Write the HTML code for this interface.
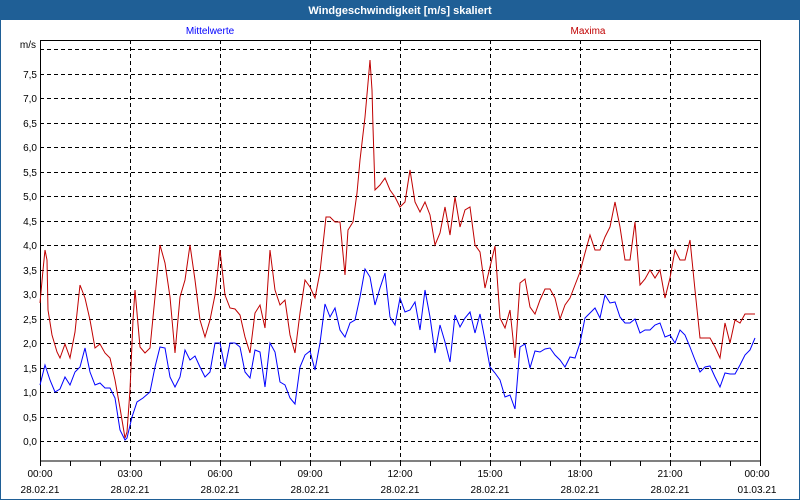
<!DOCTYPE html>
<html><head><meta charset="utf-8"><style>
body{margin:0;background:#fff}
svg{display:block;font-family:"Liberation Sans",sans-serif}
</style></head><body>
<svg width="800" height="500" viewBox="0 0 800 500" xmlns="http://www.w3.org/2000/svg">
<rect x="0" y="0" width="800" height="500" fill="#fff"/>
<rect x="0.5" y="0.5" width="799" height="499" fill="none" stroke="#1f5f96"/>
<rect x="0" y="0" width="800" height="20" fill="#1f5f96"/>
<text x="400" y="14" fill="#fff" font-size="11" font-weight="bold" text-anchor="middle">Windgeschwindigkeit [m/s] skaliert</text>
<text x="210" y="34" fill="#0000ff" font-size="10" text-anchor="middle">Mittelwerte</text>
<text x="588" y="34" fill="#c00000" font-size="10" text-anchor="middle">Maxima</text>
<g stroke="#000" stroke-dasharray="4,3" stroke-width="1">
<line x1="40" x2="760" y1="441.5" y2="441.5"/><line x1="40" x2="760" y1="417.5" y2="417.5"/>
<line x1="40" x2="760" y1="392.5" y2="392.5"/><line x1="40" x2="760" y1="368.5" y2="368.5"/>
<line x1="40" x2="760" y1="343.5" y2="343.5"/><line x1="40" x2="760" y1="319.5" y2="319.5"/>
<line x1="40" x2="760" y1="294.5" y2="294.5"/><line x1="40" x2="760" y1="270.5" y2="270.5"/>
<line x1="40" x2="760" y1="245.5" y2="245.5"/><line x1="40" x2="760" y1="221.5" y2="221.5"/>
<line x1="40" x2="760" y1="196.5" y2="196.5"/><line x1="40" x2="760" y1="172.5" y2="172.5"/>
<line x1="40" x2="760" y1="147.5" y2="147.5"/><line x1="40" x2="760" y1="123.5" y2="123.5"/>
<line x1="40" x2="760" y1="98.5" y2="98.5"/><line x1="40" x2="760" y1="74.5" y2="74.5"/>
<line x1="40" x2="760" y1="49.5" y2="49.5"/>
<line x1="130.5" x2="130.5" y1="40" y2="461"/><line x1="220.5" x2="220.5" y1="40" y2="461"/>
<line x1="310.5" x2="310.5" y1="40" y2="461"/><line x1="400.5" x2="400.5" y1="40" y2="461"/>
<line x1="490.5" x2="490.5" y1="40" y2="461"/><line x1="580.5" x2="580.5" y1="40" y2="461"/>
<line x1="670.5" x2="670.5" y1="40" y2="461"/>
</g>
<rect x="40.5" y="40.5" width="720" height="420.5" fill="none" stroke="#000"/>
<g stroke="#000">
<line x1="40.5" x2="40.5" y1="461" y2="466"/><line x1="70.5" x2="70.5" y1="461" y2="466"/><line x1="100.5" x2="100.5" y1="461" y2="466"/><line x1="130.5" x2="130.5" y1="461" y2="466"/><line x1="160.5" x2="160.5" y1="461" y2="466"/><line x1="190.5" x2="190.5" y1="461" y2="466"/><line x1="220.5" x2="220.5" y1="461" y2="466"/><line x1="250.5" x2="250.5" y1="461" y2="466"/><line x1="280.5" x2="280.5" y1="461" y2="466"/><line x1="310.5" x2="310.5" y1="461" y2="466"/><line x1="340.5" x2="340.5" y1="461" y2="466"/><line x1="370.5" x2="370.5" y1="461" y2="466"/><line x1="400.5" x2="400.5" y1="461" y2="466"/><line x1="430.5" x2="430.5" y1="461" y2="466"/><line x1="460.5" x2="460.5" y1="461" y2="466"/><line x1="490.5" x2="490.5" y1="461" y2="466"/><line x1="520.5" x2="520.5" y1="461" y2="466"/><line x1="550.5" x2="550.5" y1="461" y2="466"/><line x1="580.5" x2="580.5" y1="461" y2="466"/><line x1="610.5" x2="610.5" y1="461" y2="466"/><line x1="640.5" x2="640.5" y1="461" y2="466"/><line x1="670.5" x2="670.5" y1="461" y2="466"/><line x1="700.5" x2="700.5" y1="461" y2="466"/><line x1="730.5" x2="730.5" y1="461" y2="466"/><line x1="760.5" x2="760.5" y1="461" y2="466"/>
</g>
<g font-size="10" fill="#000" text-anchor="end">
<text x="36" y="48">m/s</text>
<text x="37" y="78">7,5</text><text x="37" y="102">7,0</text><text x="37" y="127">6,5</text><text x="37" y="151">6,0</text>
<text x="37" y="176">5,5</text><text x="37" y="200">5,0</text><text x="37" y="225">4,5</text><text x="37" y="249">4,0</text>
<text x="37" y="274">3,5</text><text x="37" y="298">3,0</text><text x="37" y="323">2,5</text><text x="37" y="347">2,0</text>
<text x="37" y="372">1,5</text><text x="37" y="396">1,0</text><text x="37" y="421">0,5</text><text x="37" y="445">0,0</text>
</g>
<g font-size="10" fill="#000" text-anchor="middle">
<text x="40" y="477">00:00</text><text x="130" y="477">03:00</text><text x="220" y="477">06:00</text><text x="310" y="477">09:00</text><text x="400" y="477">12:00</text><text x="490" y="477">15:00</text><text x="580" y="477">18:00</text><text x="670" y="477">21:00</text><text x="757" y="477">00:00</text>
<text x="40" y="493">28.02.21</text><text x="130" y="493">28.02.21</text><text x="220" y="493">28.02.21</text><text x="310" y="493">28.02.21</text><text x="400" y="493">28.02.21</text><text x="490" y="493">28.02.21</text><text x="580" y="493">28.02.21</text><text x="670" y="493">28.02.21</text><text x="757" y="493">01.03.21</text>
</g>
<polyline fill="none" stroke="#c00000" stroke-width="1" points="40,303 43,270 45,250 47,260 48,310 52,335 57,352 60,358 65,344 70,358 75,332 80,285 85,298 90,320 95,348 100,344 105,353 110,358 115,380 120,408 125,438 127,432 130,390 133,320 135,290 140,347 145,353 150,348 155,297 160,245 165,263 170,297 175,353 180,297 185,280 190,245 195,280 200,320 205,337 210,320 215,295 220,250 223,277 225,295 230,308 235,309 240,315 245,337 250,353 255,313 260,305 265,328 270,250 275,290 280,305 285,300 290,335 295,353 300,313 305,280 310,287 315,298 320,272 326,217 330,217 335,222 340,222 345,275 348,230 353,222 357,193 360,160 365,117 368,83 370,60 372,90 373,127 375,190 380,185 385,178 390,190 395,197 400,207 405,202 410,170 415,202 420,212 425,202 430,215 435,245 440,233 445,207 450,235 455,197 460,227 465,210 470,207 475,245 480,252 485,288 490,267 495,246 500,318 505,328 510,310 515,358 520,283 525,279 530,307 535,314 540,300 545,289 550,289 555,298 560,319 565,305 570,298 575,285 580,272 585,253 590,235 595,250 600,250 605,237 610,227 615,202 620,227 625,260 630,260 635,222 640,285 645,279 650,270 655,278 660,270 665,298 670,278 675,250 680,260 685,260 690,240 695,290 700,338 705,338 710,338 715,347 720,358 725,323 730,343 735,320 740,323 745,314 755,314"/>
<polyline fill="none" stroke="#0000ff" stroke-width="1" points="40,385 45,365 50,380 55,392 60,389 65,377 70,385 75,372 80,367 85,348 90,372 95,385 100,383 105,388 110,388 115,398 120,430 125,440 127,438 132,417 137,402 143,398 150,392 155,367 160,347 165,348 170,377 175,387 180,377 185,350 190,360 195,356 200,367 205,377 210,372 215,343 220,343 225,368 230,343 235,343 240,347 245,372 250,378 255,350 260,352 265,387 270,343 275,352 280,382 285,385 290,398 295,404 300,367 305,355 310,351 315,370 320,343 325,304 330,317 335,308 340,330 345,337 350,323 355,320 360,297 365,269 370,277 375,305 380,288 385,273 390,317 395,325 400,298 405,312 410,310 415,302 420,330 425,290 430,317 435,353 440,325 445,342 450,362 455,315 460,327 465,318 470,312 475,333 480,314 485,340 490,367 495,373 500,380 505,397 510,395 515,409 520,347 525,344 530,368 535,351 540,352 545,349 550,348 555,355 560,360 565,367 570,357 575,358 580,343 585,318 590,313 595,308 600,318 605,295 610,303 615,302 620,317 625,323 630,323 635,319 640,333 645,330 650,330 655,325 660,323 665,337 670,335 675,343 680,330 685,335 690,347 695,360 700,372 705,367 710,366 715,377 720,387 725,373 730,374 735,374 740,365 745,355 750,350 755,338"/>
</svg>
</body></html>
